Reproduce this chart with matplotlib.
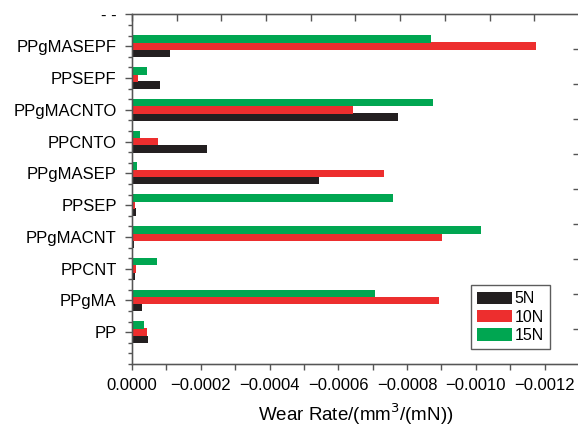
import numpy as np
import matplotlib
matplotlib.use('Agg')
import matplotlib.pyplot as plt
from matplotlib.ticker import MultipleLocator, FuncFormatter

# data (wear rate, mm3/(mN))
samples = ['PP', 'PPgMA', 'PPCNT', 'PPgMACNT', 'PPSEP', 'PPgMASEP',
           'PPCNTO', 'PPgMACNTO', 'PPSEPF', 'PPgMASEPF']
wear_5n = [-0.000047, -0.000029, -0.000008, -0.000006, -0.000011, -0.000545,
           -0.000218, -0.000773, -0.000082, -0.000111]
wear_10n = [-0.000044, -0.000892, -0.000012, -0.000902, -0.000009, -0.000732,
            -0.000077, -0.000643, -0.000017, -0.001174]
wear_15n = [-0.000035, -0.000706, -0.000072, -0.001015, -0.000758, -0.000015,
            -0.000024, -0.000876, -0.000045, -0.000871]
loads = ['5N', '10N', '15N']
colors = ['#231f20', '#ed2e2e', '#00a651']

plt.rcParams['font.family'] = ['Liberation Sans', 'DejaVu Sans']


def fmt_x(v, pos):
    if abs(v) < 1e-9:
        return '0.0000'
    return ('%.4f' % v).replace('-', '\u2212')


fig = plt.figure(figsize=(5.78, 4.26), dpi=100)
ax = fig.add_axes([0.2284, 0.1455, 0.7733, 0.8205])

y = np.arange(1, len(samples) + 1)
h = 0.24
off = 0.225
ax.barh(y - off, wear_5n, height=h, color=colors[0], label=loads[0])
ax.barh(y, wear_10n, height=h, color=colors[1], label=loads[1])
ax.barh(y + off, wear_15n, height=h, color=colors[2], label=loads[2])

ax.set_xlim(0, -0.0013)
ax.set_ylim(0, 11)

spine_col = '#555555'
for s in ax.spines.values():
    s.set_color(spine_col)
    s.set_linewidth(1.0)

ax.xaxis.set_major_locator(MultipleLocator(0.0002))
ax.xaxis.set_minor_locator(MultipleLocator(0.0001))
ax.xaxis.set_major_formatter(FuncFormatter(fmt_x))
ax.tick_params(axis='x', which='both', direction='out', length=4, width=1,
               color=spine_col, labelsize=12, pad=6)

ax.set_yticks(list(y) + [11])
ax.set_yticklabels(samples + ['- -'])
ax.yaxis.set_minor_locator(MultipleLocator(1 / 3))
ax.tick_params(axis='y', which='major', direction='out', length=5, width=1,
               color=spine_col, labelsize=12, pad=6)
ax.tick_params(axis='y', which='minor', direction='out', length=3, width=1,
               color=spine_col)

ax.set_xlabel('Wear Rate/(mm$^3$/(mN))', fontsize=13.5, labelpad=6)

# extra ticks along top and right edges
top = ax.twiny()
top.set_xlim(0, 1)
top.set_xticks(np.arange(0, 1.0, 0.1))
top.tick_params(axis='x', direction='in', length=5, width=1, color=spine_col,
                labeltop=False)
right = ax.twinx()
right.set_ylim(0, 1)
right.set_yticks(np.arange(0.1, 1.0, 0.1))
right.tick_params(axis='y', direction='in', length=4, width=1, color=spine_col,
                  labelright=False)
for a in (top, right):
    for s in a.spines.values():
        s.set_color(spine_col)

leg = ax.legend(loc='upper left', bbox_to_anchor=(0.758, 0.226), fontsize=11.5,
                frameon=True, fancybox=False, edgecolor='#333333',
                handlelength=2.2, handleheight=0.85, handletextpad=0.15,
                labelspacing=0.2, borderpad=0.4, borderaxespad=0)
leg.get_frame().set_linewidth(1.0)

fig.savefig('out.png', dpi=100)
